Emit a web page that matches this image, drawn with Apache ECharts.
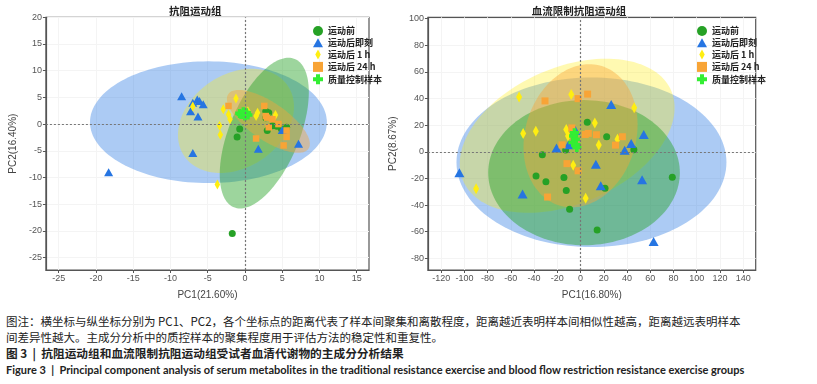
<!DOCTYPE html>
<html>
<head>
<meta charset="utf-8">
<script src="https://cdn.jsdelivr.net/npm/echarts@6/dist/echarts.min.js"></script>
<style>
body { margin: 0; width: 817px; height: 384px; background: #fff; position: relative; overflow: hidden; }
#chartL { position: absolute; left: 0; top: 0; width: 400px; height: 305px; }
#chartR { position: absolute; left: 380px; top: 0; width: 437px; height: 305px; }
.note { position: absolute; left: 6px; font-family: "Noto Sans CJK SC", sans-serif; font-size: 11.5px; line-height: 16px; color: #222; white-space: nowrap; }
.note.b { font-weight: bold; font-size: 11.7px; }
.note.en { font-family: Lato, "Noto Sans", sans-serif; font-weight: bold; font-size: 11px; }
</style>
</head>
<body>
<div id="chartL"></div>
<div id="chartR"></div>
<div class="note" style="top:313px">图注：横坐标与纵坐标分别为 PC1、PC2，各个坐标点的距离代表了样本间聚集和离散程度，距离越近表明样本间相似性越高，距离越远表明样本</div>
<div class="note" style="top:329px">间差异性越大。主成分分析中的质控样本的聚集程度用于评估方法的稳定性和重复性。</div>
<div class="note b" style="top:345px">图 3 &nbsp;|&nbsp; 抗阻运动组和血流限制抗阻运动组受试者血清代谢物的主成分分析结果</div>
<div class="note en" style="top:362px">Figure 3 &nbsp;|&nbsp; Principal component analysis of serum metabolites in the traditional resistance exercise and blood flow restriction resistance exercise groups</div>

<script>
// 分组
const groups = ["运动前", "运动后即刻", "运动后 1 h", "运动后 24 h", "质量控制样本"];

// 抗阻运动组 PC1 / PC2
const raPre = [[-0.7, -0.9], [-1.05, -2.4], [-1.7, -20.5], [2.8, 2.4], [3.2, 2.1], [3.0, -1.2], [3.7, -0.3], [4.9, -0.9], [5.6, -0.6], [2.8, 1.2], [4.3, -0.4]];
const raPost0 = [[-8.5, 5.2], [-6.4, 4.6], [-6.1, 4.3], [-5.6, 3.7], [-7.0, 4.0], [-7.3, 2.4], [-6.3, 1.4], [-7.0, -5.4], [-18.3, -9.0], [1.8, -4.6], [7.2, -3.7], [5.0, -1.1]];
const raPost1 = [[-1.2, 4.8], [-7.0, 3.3], [-2.9, 2.8], [-2.2, 1.8], [-2.0, 0.9], [-3.4, -0.3], [-3.3, -2.0], [-3.7, -11.3], [0.4, 2.4], [1.5, 1.5], [1.7, 2.1], [4.1, 1.7]];
const raPost24 = [[-2.2, 3.4], [2.6, 3.4], [2.8, 1.5], [3.7, 0.9], [4.5, 0], [3.2, -0.6], [5.6, -1.2], [5.6, -2.4], [1.5, -2.7], [5.2, -4.0], [3.0, 1.2]];
const raQC = [[-0.5, 1.8], [0.2, 2.1], [0, 1.5], [-0.7, 2.0], [0.4, 1.7], [-0.2, 2.3]];
// 置信椭圆：中心 x, 中心 y, 半轴1 (x, y), 半轴2 (x, y) —— 顺序：即刻、1 h、运动前、24 h
const raEllipses = [
  [-4.9, 0.35, 15.9, 0, 0, 11.4],
  [-1.2, 0.6, 2.1, 9.75, 7.5, 0],
  [2.6, -1.7, 4.07, 13.9, 4.38, -2.45],
  [3.15, 0.5, 5.38, -5.12, -1.43, -2.91]
];
const raXTicks = [-25, -20, -15, -10, -5, 0, 5, 10, 15];
const raYTicks = [-25, -20, -15, -10, -5, 0, 5, 10, 15, 20];

// 血流限制抗阻运动组 PC1 / PC2
const bfrPre = [[5.8, 22.1], [22.5, 11.3], [-12.8, 1.3], [-32.9, -2.3], [45.9, 1.6], [-38.3, -18.2], [-29.8, -22.6], [-14.3, -19.4], [-12.3, -29.1], [21.1, -27.4], [-9.4, -43.1], [14.3, -58.7], [79, -19.1]];
const bfrPost0 = [[26.4, 35.5], [-4.4, 16], [54.4, 13], [43.6, 6.2], [-20.7, 2.8], [-10.3, 5.2], [38, 1.1], [13.2, -9.4], [-104.3, -15.7], [53, -21.1], [17.4, -25.5], [-49.9, -31.8], [62.9, -67.4]];
const bfrPost1 = [[-52.9, 41.1], [-8, 43], [46.2, 33], [12.3, 21.6], [-49.4, 13.8], [-38.5, 15.5], [-12.3, 16.7], [-10.8, 11.8], [15.7, 5], [31.8, 9.4], [-6.3, -10.1], [-89.9, -27.7], [4.4, -35]];
const bfrPost24 = [[-30.6, 38.2], [-2.1, 39.9], [6.1, 43.3], [-7.5, 17.9], [4.1, 13], [6.7, 13.8], [13.7, 12.8], [-15.9, 5.2], [36, 11.3], [30.1, 5], [-11.7, -8.9], [-2.1, -14.3], [-28.4, -34]];
const bfrQC = [[-6, 11.8], [-4.4, 9.4], [-6.6, 7], [-3.8, 5.2], [-5.2, 14.3], [-3.2, 3.3]];
const bfrEllipses = [
  [9.4, -7.9, 116.2, 0, 0, 63.7],
  [-11.5, 12, 91.5, 13, 13.4, 56.4],
  [3.0, -15.7, 82.5, 0, 0, 54.5],
  [0, 12, 49, 5, 3, 53.5]
];
const bfrXTicks = [-120, -100, -80, -60, -40, -20, 0, 20, 40, 60, 80, 100, 120, 140];
const bfrYTicks = [-80, -60, -40, -20, 0, 20, 40, 60, 80, 100];

const colors = ["#26a126", "#2675e2", "#ffee11", "#f8a436", "#33ee33"];
// 椭圆颜色（即刻、1 h、运动前、24 h）
const ellipseFill = [
  ["#2675e2", 0.38],
  ["#ffee11", 0.33],
  ["#26a126", 0.45],
  ["#f8a436", 0.42]
];
const crossPath = "path://M3,0H7V3H10V7H7V10H3V7H0V3H3Z";
const legendIcons = ["circle", "path://M5,0L10,9L0,9Z", "path://M3,0L6,5.5L3,11L0,5.5Z", "path://M0,0H10V10H0Z", crossPath];

function ellipseSeries(list) {
  return {
    type: "custom",
    name: "ellipse",
    silent: true,
    z: 1,
    data: list,
    encode: { x: 0, y: 1 },
    renderItem: function (params, api) {
      const cx = api.value(0), cy = api.value(1);
      const ux = api.value(2), uy = api.value(3);
      const vx = api.value(4), vy = api.value(5);
      const pts = [];
      for (let i = 0; i < 144; i++) {
        const t = (i / 144) * Math.PI * 2;
        pts.push(api.coord([cx + ux * Math.cos(t) + vx * Math.sin(t), cy + uy * Math.cos(t) + vy * Math.sin(t)]));
      }
      const f = ellipseFill[params.dataIndex];
      return { type: "polygon", shape: { points: pts }, style: { fill: f[0], opacity: f[1] } };
    }
  };
}

function buildOption(cfg) {
  const axisCommon = {
    type: "value",
    axisLine: { onZero: false, lineStyle: { color: "#555", width: 1.2 } },
    axisTick: { show: true, length: 3, lineStyle: { color: "#555" } },
    axisLabel: { fontSize: 9, color: "#555", fontFamily: "Liberation Sans", margin: 4 },
    splitLine: { show: true, lineStyle: { color: "#f4f4f4" } },
    nameLocation: "middle",
    nameTextStyle: { fontSize: 10, color: "#444", fontFamily: "Liberation Sans" }
  };
  const sizes = cfg.sizes;
  return {
    animation: false,
    title: {
      text: cfg.title,
      left: cfg.titleLeft,
      top: 1,
      textStyle: { fontSize: 10.5, fontWeight: "bold", color: "#222", fontFamily: "Noto Sans CJK SC" }
    },
    legend: {
      orient: "vertical",
      left: cfg.legendLeft,
      top: 21,
      itemWidth: 10,
      itemHeight: 10,
      itemGap: 2.3,
      textStyle: { fontSize: 9, fontWeight: "bold", color: "#222", fontFamily: "Noto Sans CJK SC" },
      data: groups.map((g, i) => ({ name: g, icon: legendIcons[i] }))
    },
    grid: {
      left: cfg.grid[0], top: cfg.grid[1], width: cfg.grid[2], height: cfg.grid[3],
      show: true, borderColor: "#555", borderWidth: 1.2
    },
    xAxis: Object.assign({}, axisCommon, {
      min: cfg.xRange[0], max: cfg.xRange[1],
      name: cfg.xName, nameGap: 20,
      axisLabel: Object.assign({}, axisCommon.axisLabel, { customValues: cfg.xTicks }),
      axisTick: Object.assign({}, axisCommon.axisTick, { customValues: cfg.xTicks })
    }),
    yAxis: Object.assign({}, axisCommon, {
      min: cfg.yRange[0], max: cfg.yRange[1],
      name: cfg.yName, nameGap: cfg.yNameGap,
      axisLabel: Object.assign({}, axisCommon.axisLabel, { customValues: cfg.yTicks }),
      axisTick: Object.assign({}, axisCommon.axisTick, { customValues: cfg.yTicks })
    }),
    series: [
      ellipseSeries(cfg.ellipses),
      {
        type: "scatter",
        name: "zero",
        data: [],
        z: 2,
        markLine: {
          silent: true,
          symbol: "none",
          label: { show: false },
          lineStyle: { color: "#777", type: [2, 2], width: 1.2 },
          data: [{ xAxis: 0 }, { yAxis: 0 }]
        }
      },
      { type: "scatter", name: groups[0], data: cfg.data[0], symbol: "circle", symbolSize: sizes[0], itemStyle: { color: colors[0], opacity: 1 }, z: 3 },
      { type: "scatter", name: groups[1], data: cfg.data[1], symbol: "triangle", symbolSize: sizes[1], itemStyle: { color: colors[1], opacity: 1 }, z: 3 },
      { type: "scatter", name: groups[2], data: cfg.data[2], symbol: "diamond", symbolSize: sizes[2], itemStyle: { color: colors[2], opacity: 1 }, z: 3 },
      { type: "scatter", name: groups[3], data: cfg.data[3], symbol: "rect", symbolSize: sizes[3], itemStyle: { color: colors[3], opacity: 1 }, z: 3 },
      { type: "scatter", name: groups[4], data: cfg.data[4], symbol: crossPath, symbolSize: sizes[4], itemStyle: { color: colors[4], opacity: 1 }, z: 4 }
    ]
  };
}

const chartL = echarts.init(document.getElementById("chartL"));
chartL.setOption(buildOption({
  title: "抗阻运动组",
  titleLeft: 164,
  legendLeft: 308,
  grid: [38.3, 17.3, 330.7, 258.7],
  xRange: [-26.72, 16.66],
  yRange: [-27.33, 20],
  xTicks: raXTicks,
  yTicks: raYTicks,
  xName: "PC1(21.60%)",
  yName: "PC2(16.40%)",
  yNameGap: 21,
  sizes: [7, [9, 8], [5.5, 10], 6.5, 9],
  ellipses: raEllipses,
  data: [raPre, raPost0, raPost1, raPost24, raQC]
}));

const chartR = echarts.init(document.getElementById("chartR"));
chartR.setOption(buildOption({
  title: "血流限制抗阻运动组",
  titleLeft: 146.7,
  legendLeft: 312,
  grid: [43.3, 17.3, 332.4, 258.7],
  xRange: [-131.4, 150.8],
  yRange: [-88.8, 101],
  xTicks: bfrXTicks,
  yTicks: bfrYTicks,
  xName: "PC1(16.80%)",
  yName: "PC2(8.67%)",
  yNameGap: 23,
  sizes: [7, [10, 9], [6, 11], 7, 9],
  ellipses: bfrEllipses,
  data: [bfrPre, bfrPost0, bfrPost1, bfrPost24, bfrQC]
}));
</script>
</body>
</html>
